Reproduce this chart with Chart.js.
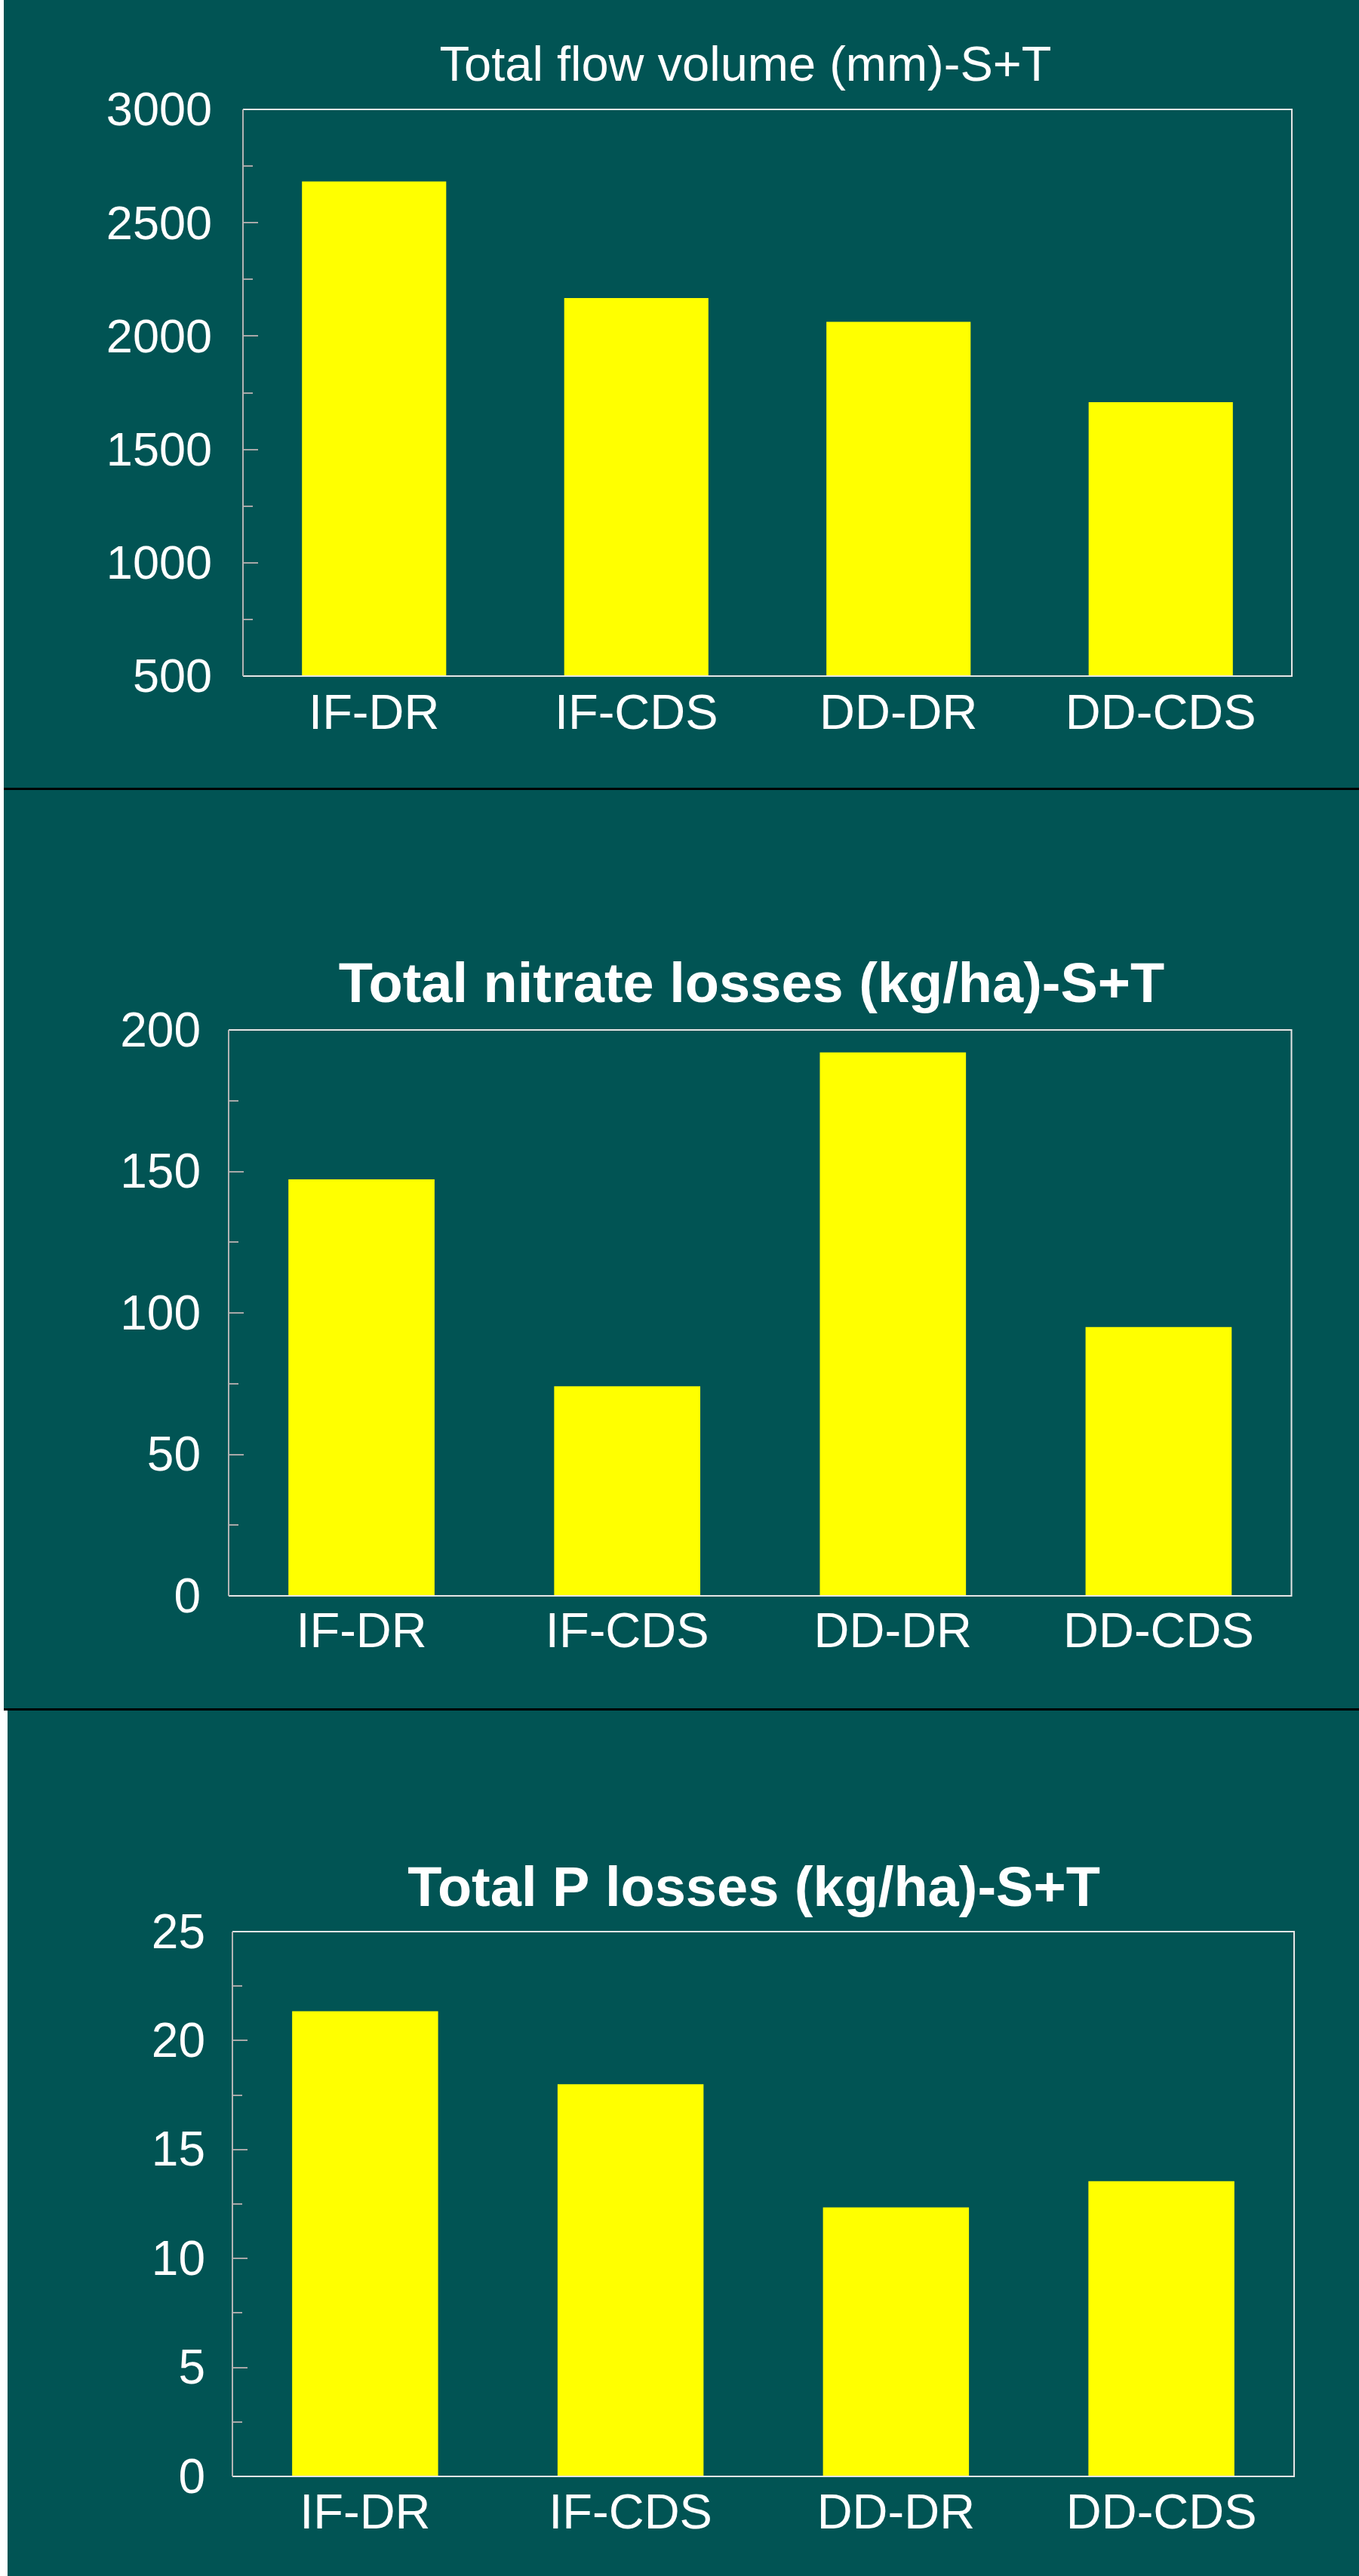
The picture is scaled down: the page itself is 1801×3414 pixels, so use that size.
<!DOCTYPE html>
<html>
<head>
<meta charset="utf-8">
<script src="https://cdn.jsdelivr.net/npm/chart.js@4/dist/chart.umd.min.js"></script>
<style>
  html, body { margin: 0; padding: 0; background: #ffffff; }
  body { width: 1801px; height: 3414px; position: relative; overflow: hidden; }
  .panel { position: absolute; background: #015454; }
  .sep { position: absolute; background: #000000; }
  canvas { display: block; }
</style>
</head>
<body>
<div class="panel" id="p1" style="left:5px;top:0px;width:1796px;height:1044px;"><canvas id="c1"></canvas></div>
<div class="sep" style="left:5px;top:1044px;width:1796px;height:3px;"></div>
<div class="panel" id="p2" style="left:5px;top:1047px;width:1796px;height:1217px;"><canvas id="c2"></canvas></div>
<div class="sep" style="left:5px;top:2264px;width:1796px;height:3px;"></div>
<div class="panel" id="p3" style="left:10px;top:2267px;width:1791px;height:1147px;"><canvas id="c3"></canvas></div>
<script>
// ---- data ----
const categories = ["IF-DR", "IF-CDS", "DD-DR", "DD-CDS"];
const flowVolume = [2682, 2168, 2063, 1708];
const nitrateLosses = [147.2, 74.1, 192.1, 95.0];
const pLosses = [21.35, 18.0, 12.34, 13.55];
const titles = ["Total flow volume (mm)-S+T", "Total nitrate losses (kg/ha)-S+T", "Total P losses (kg/ha)-S+T"];
const flowTicks = { min: 500, max: 3000, major: 500, minor: 250 };
const nitrateTicks = { min: 0, max: 200, major: 50, minor: 25 };
const pTicks = { min: 0, max: 25, major: 5, minor: 2.5 };

const FONT = "'Liberation Sans', Arial, sans-serif";

const framePlugin = {
  id: 'frameTicks',
  afterDatasetsDraw(chart, args, opts) {
    const ctx = chart.ctx;
    const a = chart.chartArea;
    const ys = chart.scales.y;
    ctx.save();
    // inward ticks
    ctx.strokeStyle = '#a8a8a8';
    ctx.lineWidth = 2;
    ys.ticks.forEach(t => {
      const py = Math.round(ys.getPixelForValue(t.value));
      const isMajor = Math.abs(t.value / opts.major - Math.round(t.value / opts.major)) < 1e-6;
      const len = isMajor ? 20 : 13;
      ctx.beginPath();
      ctx.moveTo(a.left, py);
      ctx.lineTo(a.left + len, py);
      ctx.stroke();
    });
    // frame
    ctx.strokeStyle = '#e6e6e6';
    ctx.lineWidth = 2;
    ctx.beginPath();
    ctx.moveTo(a.left, a.top);
    ctx.lineTo(a.right, a.top);
    ctx.lineTo(a.right, a.bottom);
    ctx.lineTo(a.left, a.bottom);
    ctx.stroke();
    ctx.strokeStyle = '#b4b4b4';
    ctx.beginPath();
    ctx.moveTo(a.left, a.top);
    ctx.lineTo(a.left, a.bottom);
    ctx.stroke();
    // title
    ctx.fillStyle = '#ffffff';
    ctx.font = opts.titleFont;
    ctx.textAlign = 'center';
    ctx.textBaseline = 'middle';
    ctx.fillText(opts.title, opts.titleX, opts.titleY);
    ctx.restore();
  }
};

function makeChart(id, w, h, values, tk, cfg) {
  const canvas = document.getElementById(id);
  canvas.width = w; canvas.height = h;
  canvas.style.width = w + 'px'; canvas.style.height = h + 'px';
  return new Chart(canvas, {
    type: 'bar',
    data: {
      labels: categories,
      datasets: [{
        data: values,
        backgroundColor: '#ffff00',
        borderWidth: 0,
        barPercentage: 0.55,
        categoryPercentage: 1.0
      }]
    },
    options: {
      responsive: false,
      animation: false,
      devicePixelRatio: 1,
      layout: { padding: { left: 0, top: cfg.top, right: cfg.right, bottom: 0 } },
      plugins: {
        legend: { display: false },
        title: { display: false },
        tooltip: { enabled: false },
        frameTicks: {
          major: tk.major,
          title: cfg.title, titleFont: cfg.titleFont, titleX: cfg.titleX, titleY: cfg.titleY
        }
      },
      scales: {
        x: {
          grid: { display: false, drawTicks: false },
          border: { display: false },
          ticks: { color: '#ffffff', font: { family: FONT, size: cfg.xFont }, padding: cfg.xPad, maxRotation: 0, autoSkip: false },
          afterFit: s => { s.height = cfg.xHeight; }
        },
        y: {
          min: tk.min, max: tk.max,
          grid: { display: false, drawTicks: false },
          border: { display: false },
          ticks: {
            stepSize: tk.minor,
            autoSkip: false,
            color: '#ffffff',
            font: { family: FONT, size: cfg.yFont },
            padding: cfg.yPad,
            labelOffset: 4,
            callback: v => (Math.abs(v / tk.major - Math.round(v / tk.major)) < 1e-6 ? String(v) : '')
          },
          afterFit: s => { s.width = cfg.yWidth; }
        }
      }
    },
    plugins: [framePlugin]
  });
}

makeChart('c1', 1796, 1044, flowVolume, flowTicks, {
  top: 145, right: 89, yWidth: 317, xHeight: 148,
  xFont: 65, yFont: 63, xPad: 13, yPad: 41,
  title: titles[0], titleFont: "normal 65px " + FONT, titleX: 988 - 5, titleY: 89
});
makeChart('c2', 1796, 1217, nitrateLosses, nitrateTicks, {
  top: 318, right: 89.5, yWidth: 298, xHeight: 149,
  xFont: 65, yFont: 64, xPad: 11, yPad: 37,
  title: titles[1], titleFont: "bold 74px " + FONT, titleX: 996 - 5, titleY: 1308 - 1047
});
makeChart('c3', 1791, 1147, pLosses, pTicks, {
  top: 293, right: 86, yWidth: 298, xHeight: 132,
  xFont: 65, yFont: 64, xPad: 12, yPad: 36,
  title: titles[2], titleFont: "bold 74px " + FONT, titleX: 999 - 10, titleY: 2506 - 2267
});
</script>
</body>
</html>
